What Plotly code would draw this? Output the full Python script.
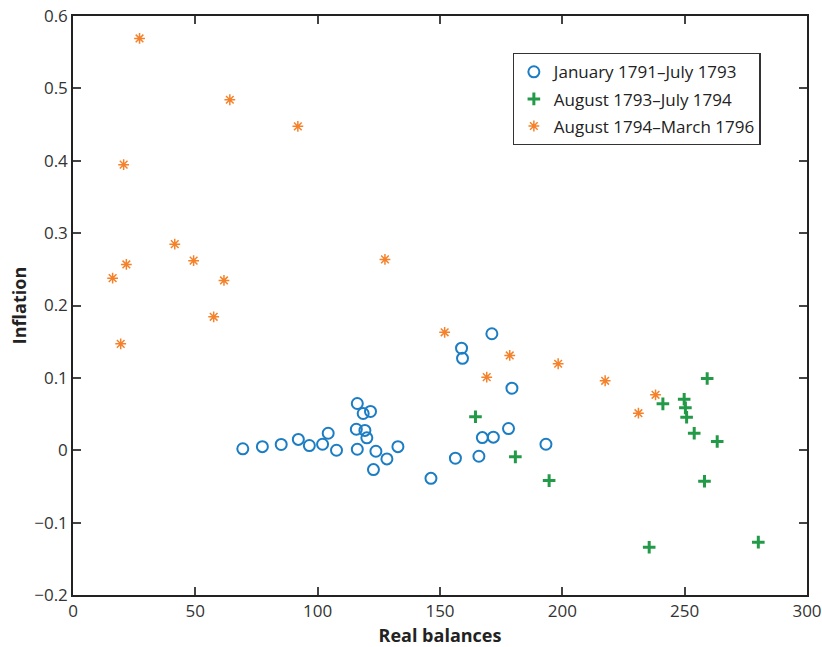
import plotly.graph_objects as go

# Series 1: January 1791–July 1793
x_jan = [69.4, 77.4, 85.1, 92.1, 96.6, 102.0, 104.3, 107.7, 116.2, 118.6, 121.6, 115.8,
         119.3, 120.1, 116.2, 123.8, 128.3, 122.8, 132.8, 171.2, 158.8, 159.2, 179.4,
         178.0, 167.3, 171.8, 193.3, 156.3, 165.9, 146.3]
y_jan = [0.002, 0.005, 0.008, 0.015, 0.0065, 0.0083, 0.0235, 0.0, 0.0646, 0.0508, 0.0536,
         0.029, 0.0274, 0.0171, 0.0014, -0.0014, -0.012, -0.0267, 0.005, 0.161, 0.141,
         0.127, 0.0857, 0.030, 0.0175, 0.0181, 0.0083, -0.011, -0.0083, -0.0388]

# Series 2: August 1793–July 1794
x_aug93 = [164.5, 180.8, 194.6, 259.2, 241.1, 249.8, 250.3, 250.8, 253.9, 263.3, 258.1, 235.5, 280.1]
y_aug93 = [0.0462, -0.0091, -0.0419, 0.0991, 0.0641, 0.0705, 0.0586, 0.0456, 0.0235, 0.012,
           -0.0429, -0.134, -0.127]

# Series 3: August 1794–March 1796
x_aug94 = [27.2, 20.7, 41.6, 49.3, 21.8, 16.2, 19.5, 64.1, 91.9, 61.7, 57.5, 127.5, 151.9,
           178.5, 198.3, 169.1, 217.5, 238.1, 231.1]
y_aug94 = [0.569, 0.3946, 0.2848, 0.262, 0.2567, 0.2378, 0.147, 0.4843, 0.4475, 0.2346,
           0.1844, 0.2637, 0.163, 0.131, 0.1195, 0.101, 0.096, 0.0766, 0.0512]

names = ["January 1791–July 1793", "August 1793–July 1794", "August 1794–March 1796"]

x_ticks = [0, 50, 100, 150, 200, 250, 300]
y_ticks = [-0.2, -0.1, 0, 0.1, 0.2, 0.3, 0.4, 0.5, 0.6]
y_tick_text = ["−0.2", "−0.1", "0", "0.1", "0.2", "0.3", "0.4", "0.5", "0.6"]

FONT = "Open Sans"

fig = go.Figure()
fig.add_trace(go.Scatter(
    x=x_jan, y=y_jan, mode="markers", name=names[0], legendgroup="g1",
    marker=dict(symbol="circle-open", size=11, color="#1b7dc3",
                line=dict(width=2, color="#1b7dc3"))))
fig.add_trace(go.Scatter(
    x=x_aug93, y=y_aug93, mode="markers", name=names[1], legendgroup="g2",
    marker=dict(symbol="cross-thin-open", size=9, color="#229a47",
                line=dict(width=3, color="#229a47"))))
fig.add_trace(go.Scatter(
    x=x_aug94, y=y_aug94, mode="markers", name=names[2], legendgroup="g3",
    marker=dict(symbol="asterisk-open", size=9, color="#f5822a",
                line=dict(width=1.5, color="#f5822a"))))

axis_common = dict(
    showgrid=False, zeroline=False, showline=True, linecolor="#222222", linewidth=1.5,
    mirror="ticks", ticks="inside", ticklen=8, tickwidth=1.5, tickcolor="#444444",
    tickfont=dict(family=FONT, size=17, color="#333333"), automargin=False,
)

fig.update_layout(
    width=822, height=647,
    margin=dict(l=73, r=15, t=16, b=52),
    paper_bgcolor="white", plot_bgcolor="white",
    font=dict(family=FONT, color="#222222"),
    xaxis=dict(range=[0, 300], tickvals=x_ticks,
               title=dict(text="<b>Real balances</b>", font=dict(family=FONT, size=18), standoff=8),
               **axis_common),
    yaxis=dict(range=[-0.2, 0.6], tickvals=y_ticks, ticktext=y_tick_text,
               title=dict(text="<b>Inflation</b>", font=dict(family=FONT, size=18), standoff=3),
               **axis_common),
    legend=dict(x=0.599, y=0.936, xanchor="left", yanchor="top",
                bgcolor="white", bordercolor="#333333", borderwidth=1.2,
                font=dict(family=FONT, size=17, color="#222222"),
                traceorder="grouped", tracegroupgap=2, itemsizing="trace"),
    showlegend=True,
)

# Remove the browser's default 8 px body margin so the figure fills the window.
fig.write_html("out.html", post_script="document.body.style.margin='0px';",
               config={"displayModeBar": False})
